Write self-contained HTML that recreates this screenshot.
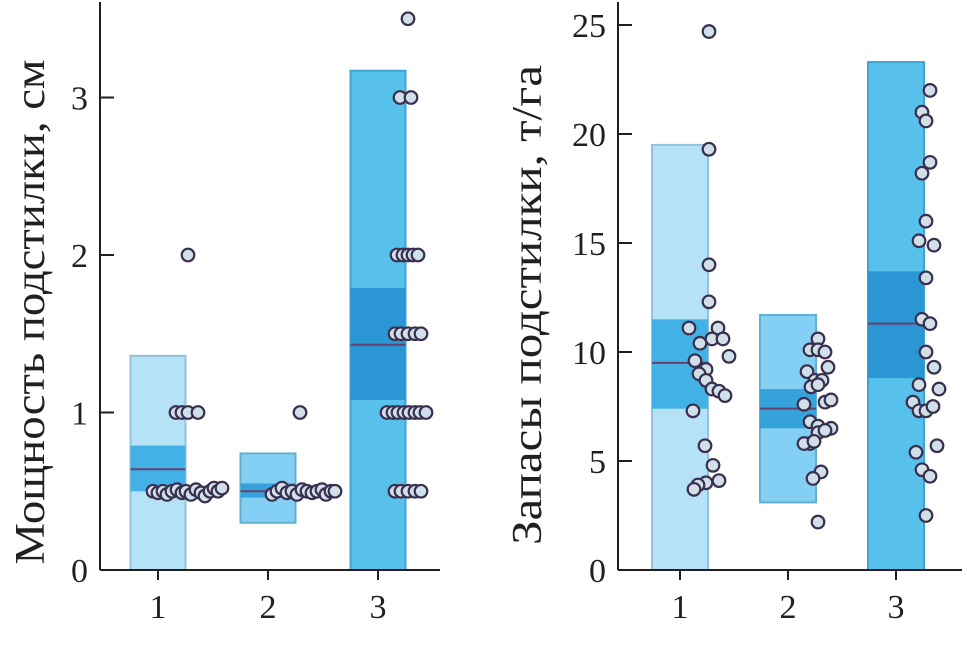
<!DOCTYPE html>
<html><head><meta charset="utf-8"><style>
body{margin:0;background:#fff}
svg text{font-family:"Liberation Serif",serif;fill:#231f20}
</style></head><body>
<svg id="c" width="967" height="642" viewBox="0 0 967 642" xmlns="http://www.w3.org/2000/svg"></svg>
<script>
// Left panel data
const catsL=["1","2","3"];
const outerL=[[0,1.36],[0.30,0.74],[0,3.17]];
const innerL=[[0.50,0.79],[0.46,0.55],[1.08,1.79]];
const medL=[0.64,0.50,1.43];
const ticksL=[0,1,2,3];
const ptsL=[
 [[2.0,30],[1.0,18],[1.0,24],[1.0,30],[1.0,40],[0.5,-5],[0.49,0],[0.5,5],[0.48,9],[0.5,14],[0.51,19],[0.49,24],[0.5,28],[0.48,33],[0.51,38],[0.49,43],[0.47,47],[0.5,52],[0.52,56],[0.5,60],[0.52,64]],
 [[1.0,32],[0.48,4],[0.5,9],[0.52,14],[0.49,19],[0.5,24],[0.48,29],[0.51,34],[0.5,39],[0.49,44],[0.5,49],[0.51,54],[0.48,58],[0.5,63],[0.5,67]],
 [[3.5,30],[3.0,22],[3.0,33],[2.0,19],[2.0,25],[2.0,30],[2.0,35],[2.0,40],[1.5,17],[1.5,23],[1.5,30],[1.5,37],[1.5,43],[1.0,9],[1.0,15],[1.0,20],[1.0,26],[1.0,31],[1.0,37],[1.0,42],[1.0,48],[0.5,17],[0.5,23],[0.5,30],[0.5,37],[0.5,43]]
];
// Right panel data
const catsR=["1","2","3"];
const outerR=[[0,19.5],[3.1,11.7],[0,23.3]];
const innerR=[[7.4,11.5],[6.5,8.3],[8.8,13.7]];
const medR=[9.5,7.4,11.3];
const ticksR=[0,5,10,15,20,25];
const ptsR=[
 [[24.7,29],[19.3,29],[14.0,29],[12.3,29],[11.1,9],[11.1,38],[10.6,32],[10.6,43],[10.4,20],[9.8,49],[9.6,15],[9.2,26],[9.0,19],[8.7,26],[8.3,32],[8.2,39],[8.0,45],[7.3,13],[5.7,25],[4.8,33],[4.0,26],[4.1,39],[3.9,18],[3.7,14]],
 [[10.6,30],[10.1,22],[10.1,30],[10.0,37],[9.3,40],[9.1,19],[8.7,27],[8.7,34],[8.4,23],[8.5,30],[7.6,16],[7.7,37],[7.8,43],[6.8,22],[6.6,30],[6.5,43],[6.3,30],[6.4,37],[5.8,22],[5.8,16],[5.9,26],[4.5,33],[4.2,25],[2.2,30]],
 [[22.0,34],[21.0,26],[20.6,30],[18.7,34],[18.2,26],[16.0,30],[15.1,23],[14.9,38],[13.4,30],[11.5,26],[11.3,34],[10.0,30],[9.3,38],[8.5,23],[8.3,43],[7.7,17],[7.3,23],[7.3,30],[7.5,37],[5.4,20],[5.7,41],[4.6,26],[4.3,34],[2.5,30]]
];
const svg=document.getElementById('c');
const NS="http://www.w3.org/2000/svg";
function mk(tag,at,parent){const e=document.createElementNS(NS,tag);for(const k in at)e.setAttribute(k,at[k]);(parent||svg).appendChild(e);return e;}
const outerFill=["#b6e2f7","#84d0f4","#57c1ec"],outerStroke=["#93c3d8","#62afd0","#3ea4d0"];
const innerFill=["#41b1e6","#36a2dc","#2a96d4"];
function panel(o){
 const y=v=>o.y0-(v-o.vmin)*o.k;
 const xc=i=>o.cx[i];
 const g=mk('g',{});
 
 
 for(let i=0;i<3;i++){
  const r=mk('rect',{x:xc(i)-o.bw/2,y:y(o.outer[i][1]),width:o.bw,height:y(o.outer[i][0])-y(o.outer[i][1]),fill:outerFill[i],stroke:outerStroke[i],'stroke-width':2},g);
  
  
  const q=mk('rect',{x:xc(i)-o.bw/2,y:y(o.inner[i][1]),width:o.bw,height:y(o.inner[i][0])-y(o.inner[i][1]),fill:innerFill[i]},g);
  
  
  const m=mk('line',{x1:xc(i)-o.bw/2,x2:xc(i)+o.bw/2,y1:y(o.med[i]),y2:y(o.med[i]),stroke:'#6b3f6e','stroke-width':2},g);
  
  
 }
 for(let i=0;i<3;i++)for(const p of o.pts[i]){
  const c=mk('circle',{cx:xc(i)+p[1],cy:y(p[0]),r:6.3,fill:'#d0e0e8',stroke:'#3b2f50','stroke-width':2.2},g);
  
  
 }
 const ax=mk('line',{x1:o.ax,x2:o.ax,y1:2,y2:o.y0,stroke:'#231f20','stroke-width':2},g);
 
 
 const bx=mk('line',{x1:o.ax,x2:o.xend,y1:o.y0,y2:o.y0,stroke:'#231f20','stroke-width':2},g);
 
 
 for(const t of o.ticks){
  mk('line',{x1:o.ax,x2:o.ax+14,y1:y(t),y2:y(t),stroke:'#231f20','stroke-width':2},g);
  const tx=mk('text',{x:o.ax-12,y:y(t)+12,'text-anchor':'end','font-size':34},g);
  tx.textContent=t;
  
  
 }
 for(let i=0;i<3;i++){
  mk('line',{x1:xc(i),x2:xc(i),y1:o.y0,y2:o.y0+10,stroke:'#231f20','stroke-width':2},g);
  const tx=mk('text',{x:xc(i),y:o.y0+48,'text-anchor':'middle','font-size':34},g);
  tx.textContent=o.cats[i];
  
  
 }
 const tt=mk('text',{x:0,y:0,'text-anchor':'middle','font-size':42,textLength:o.tl,lengthAdjust:'spacingAndGlyphs',transform:`translate(${o.tx},${o.ty}) rotate(-90)`},g);
 tt.textContent=o.title;
 
 
}
panel({name:'thickness-panel',y0:570,vmin:0,k:157.5,cx:[158,268,378],bw:55,ax:100,xend:440,outer:outerL,inner:innerL,med:medL,pts:ptsL,ticks:ticksL,cats:catsL,title:'Мощность подстилки, см',tx:44,ty:312,tl:505});
panel({name:'stock-panel',y0:570,vmin:0,k:21.8,cx:[680,788,896],bw:56,ax:618,xend:962,outer:outerR,inner:innerR,med:medR,pts:ptsR,ticks:ticksR,cats:catsR,title:'Запасы подстилки, т/га',tx:541,ty:305,tl:480});
</script>
</body></html>
